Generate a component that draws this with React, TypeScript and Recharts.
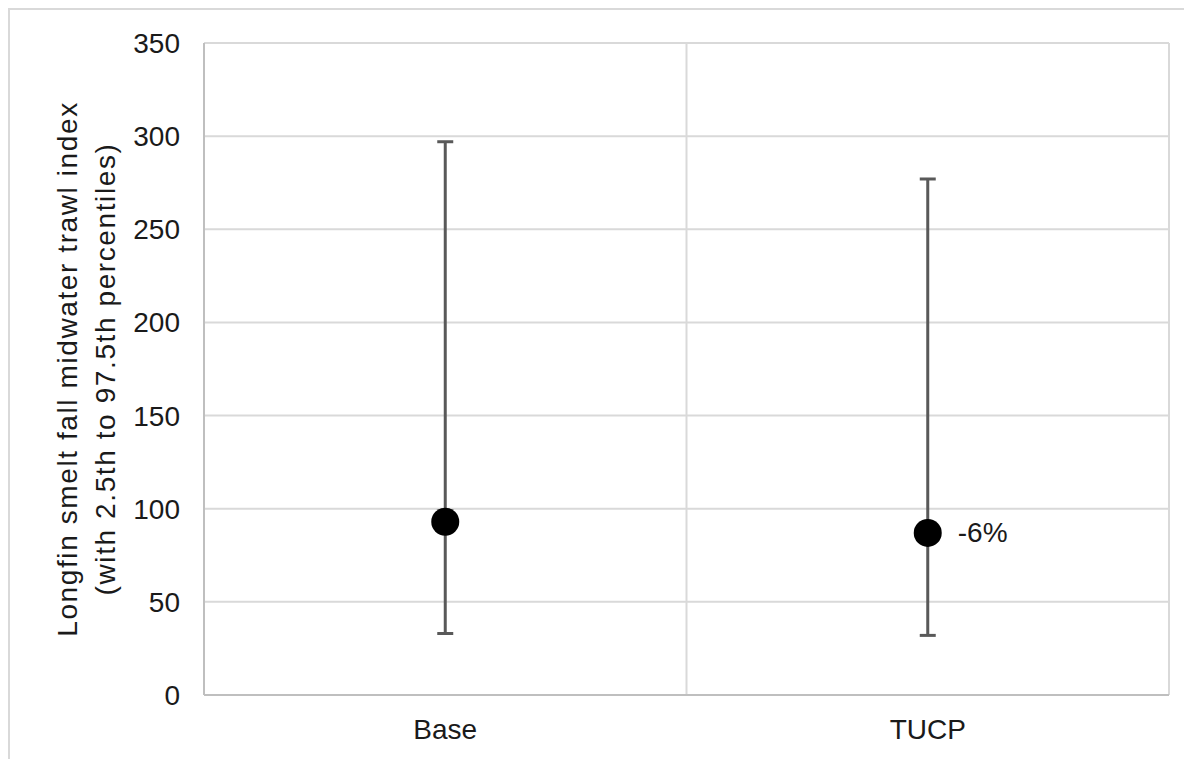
import React from 'react'
import {
  ComposedChart,
  Line,
  XAxis,
  YAxis,
  CartesianGrid,
  ErrorBar,
  LabelList,
} from 'recharts'

const categories = ['Base', 'TUCP']
const median = [93, 87]
const lower = [33, 32]
const upper = [297, 277]
const changeLabels = ['', '-6%']

const yTicks = [0, 50, 100, 150, 200, 250, 300, 350]

// each category sits in the middle of its own unit-wide band
const data = categories.map((name, i) => ({
  name,
  pos: i + 0.5,
  value: median[i],
  err: [median[i] - lower[i], upper[i] - median[i]],
  change: changeLabels[i],
}))
const catTicks = data.map((d) => d.pos)
const bandEdges = [0, ...categories.map((_, i) => i + 1)]

const FONT = '"Liberation Sans", Arial, sans-serif'
const TEXT = '#1a1a1a'

function YLabel({ viewBox }: any) {
  const cy = viewBox.y + viewBox.height / 2
  return (
    <text
      transform={`translate(67, ${cy}) rotate(-90)`}
      textAnchor="middle"
      fontFamily={FONT}
      fontSize={28}
      letterSpacing={1.6}
      fill={TEXT}
    >
      <tspan x={0} dy={0}>Longfin smelt fall midwater trawl index</tspan>
      <tspan x={0} dy={38}>(with 2.5th to 97.5th percentiles)</tspan>
    </text>
  )
}

function ChangeLabel({ x, y, value }: any) {
  if (!value) return null
  return (
    <text x={x + 30} y={y} dominantBaseline="central" fontFamily={FONT} fontSize={28} fill={TEXT}>
      {value}
    </text>
  )
}

export default function App() {
  return (
    <div
      style={{
        borderTop: '2px solid #d9d9d9',
        borderLeft: '2px solid #d9d9d9',
        width: 1182,
        height: 749,
        background: '#fff',
      }}
    >
      <ComposedChart
        width={1182}
        height={749}
        data={data}
        margin={{ top: 33, right: 23, bottom: 0, left: 0 }}
      >
        <CartesianGrid xAxisId="grid" stroke="#d9d9d9" strokeWidth={2} />
        <XAxis
          xAxisId="grid"
          type="number"
          dataKey="pos"
          domain={[0, categories.length]}
          ticks={bandEdges}
          hide
        />
        <XAxis
          xAxisId="cat"
          type="number"
          dataKey="pos"
          domain={[0, categories.length]}
          ticks={catTicks}
          interval={0}
          tickFormatter={(v: number) => categories[Math.floor(v)]}
          height={64}
          axisLine={{ stroke: '#bfbfbf', strokeWidth: 2 }}
          tickLine={false}
          tickSize={16}
          tickMargin={8}
          tick={{ fontFamily: FONT, fontSize: 28, fill: TEXT }}
        />
        <YAxis
          width={194}
          domain={[0, 350]}
          ticks={yTicks}
          interval={0}
          axisLine={{ stroke: '#bfbfbf', strokeWidth: 2 }}
          tickLine={false}
          tickSize={16}
          tickMargin={8}
          tick={{ fontFamily: FONT, fontSize: 28, fill: TEXT }}
          label={<YLabel />}
        />
        <Line
          xAxisId="cat"
          dataKey="value"
          stroke="none"
          isAnimationActive={false}
          dot={{ r: 14, fill: '#000', stroke: 'none' }}
          activeDot={false}
        >
          <ErrorBar dataKey="err" width={8} stroke="#595959" strokeWidth={3} direction="y" />
          <LabelList dataKey="change" content={<ChangeLabel />} />
        </Line>
      </ComposedChart>
    </div>
  )
}
